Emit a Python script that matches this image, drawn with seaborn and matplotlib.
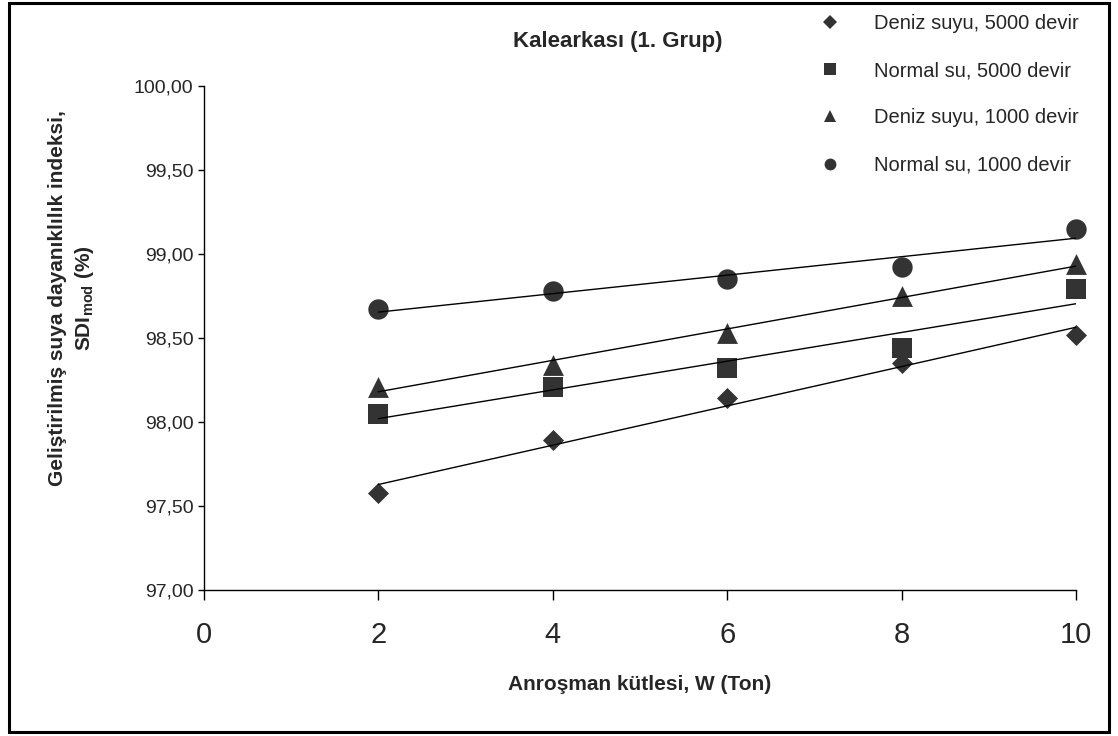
import matplotlib
matplotlib.use("Agg")
import matplotlib.pyplot as plt
from matplotlib.lines import Line2D
from matplotlib.patches import Rectangle
from matplotlib.ticker import FuncFormatter
import seaborn as sns
import pandas as pd

# Anroşman kütlesi (ton)
mass = [2, 4, 6, 8, 10]

# SDI_mod (%) for each test condition
deniz_5000 = [97.58, 97.89, 98.14, 98.35, 98.52]
normal_5000 = [98.05, 98.21, 98.32, 98.44, 98.79]
deniz_1000 = [98.21, 98.34, 98.53, 98.75, 98.94]
normal_1000 = [98.67, 98.78, 98.85, 98.92, 99.15]

labels = ["Deniz suyu, 5000 devir", "Normal su, 5000 devir",
          "Deniz suyu, 1000 devir", "Normal su, 1000 devir"]
series = [deniz_5000, normal_5000, deniz_1000, normal_1000]
markers = ["D", "s", "^", "o"]
sizes = [115, 190, 225, 215]
legend_ms = [7.0, 8.0, 9.0, 8.5]

sns.set_theme(style="white")
plt.rcParams["font.family"] = ["Liberation Sans", "DejaVu Sans"]
plt.rcParams["mathtext.fontset"] = "custom"
plt.rcParams["mathtext.rm"] = "Liberation Sans"
plt.rcParams["mathtext.bf"] = "Liberation Sans:bold"

fig = plt.figure(figsize=(11.18, 7.36), dpi=100)
ax = fig.add_axes([204 / 1118, 1 - 590 / 736, 872 / 1118, 504 / 736])

mark_color = "#333333"
for lab, vals, mk, sz in zip(labels, series, markers, sizes):
    df = pd.DataFrame({"W": mass, "SDI": vals})
    sns.regplot(data=df, x="W", y="SDI", ax=ax, ci=None, marker=mk,
                scatter_kws=dict(s=sz, color=mark_color, linewidths=0, alpha=1,
                                 clip_on=False, zorder=3),
                line_kws=dict(color="black", lw=1.0, zorder=4))

ax.set_xlim(0, 10)
ax.set_ylim(97, 100)
ax.set_xticks([0, 2, 4, 6, 8, 10])
ax.set_yticks([97, 97.5, 98, 98.5, 99, 99.5, 100])
ax.yaxis.set_major_formatter(FuncFormatter(lambda v, p: f"{v:.2f}".replace(".", ",")))
ax.set_xlabel("")
ax.set_ylabel("")

for side in ["top", "right"]:
    ax.spines[side].set_visible(False)
for side in ["left", "bottom"]:
    ax.spines[side].set_color("black")
    ax.spines[side].set_linewidth(1.0)

ax.tick_params(axis="x", direction="out", length=7, width=1, color="black",
               labelsize=21, pad=15, bottom=True)
ax.tick_params(axis="y", direction="out", length=4.5, width=1, color="black",
               labelsize=14, pad=3, left=True)

fig.text(618 / 1118, 1 - 42 / 736, "Kalearkası (1. Grup)", ha="center", va="center",
         fontsize=16, fontweight="bold")
fig.text(640 / 1118, 1 - 685 / 736, "Anroşman kütlesi, W (Ton)", ha="center",
         va="center", fontsize=15, fontweight="bold")
fig.text(72 / 1118, 1 - 298 / 736,
         "Geliştirilmiş suya dayanıklılık indeksi,\nSDI$_{\\mathbf{mod}}$ (%)",
         ha="center", va="center", rotation=90, fontsize=15, fontweight="bold",
         multialignment="center", linespacing=1.3)

handles = [Line2D([], [], linestyle="none", marker=mk, color=mark_color,
                  markersize=ms, markeredgewidth=0)
           for mk, ms in zip(markers, legend_ms)]
fig.legend(handles, labels, loc="upper left",
           bbox_to_anchor=(804 / 1118, 1 - 0 / 736), frameon=False,
           fontsize=14.5, labelspacing=1.4, handlelength=1.2,
           handletextpad=1.6, borderpad=0.2)

fig.add_artist(Rectangle((9 / 1118, 4 / 736), 1100 / 1118, 729 / 736,
                         transform=fig.transFigure, fill=False,
                         edgecolor="black", linewidth=2.2))

fig.savefig("out.png", dpi=100, facecolor="white")
